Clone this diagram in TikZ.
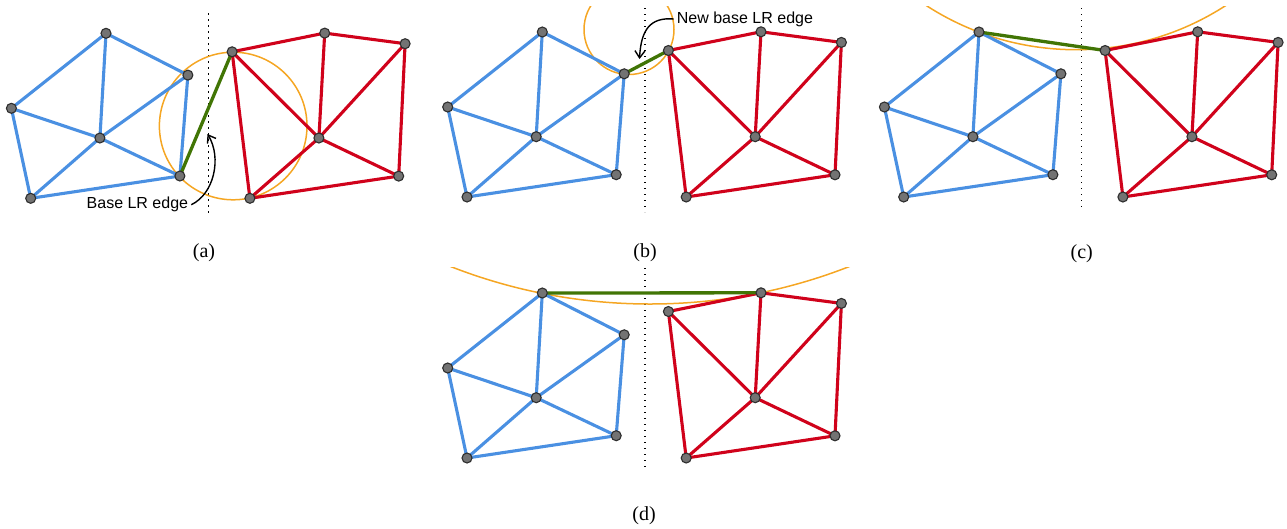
\documentclass[tikz,border=0pt]{standalone}
\usepackage{fontspec}
\setmainfont{Liberation Serif}
\newfontfamily\calloutfont{Liberation Sans}
\usetikzlibrary{arrows.meta}
\definecolor{meshblue}{HTML}{4A90E2}
\definecolor{meshred}{HTML}{D0021B}
\definecolor{basegreen}{HTML}{417505}
\definecolor{circorange}{HTML}{F5A623}
\definecolor{vtxgray}{HTML}{737373}
\definecolor{vtxrim}{HTML}{2E2E2E}
\tikzset{
  vtx/.style={circle,fill=vtxgray,draw=vtxrim,line width=1.1pt,inner sep=0pt,minimum size=10pt},
  lside/.style={meshblue,line width=3.1pt,line join=round},
  rside/.style={meshred,line width=3.1pt,line join=round},
  baseedge/.style={basegreen,line width=3.3pt},
  testcircle/.style={circorange,line width=1.5pt},
  divider/.style={line width=1.2pt,dash pattern=on 1.4pt off 4.6pt},
  callout/.style={font=\calloutfont\fontsize{16}{19}\selectfont,inner sep=3pt},
  caption/.style={font=\fontsize{20}{23}\selectfont,inner sep=0pt},
  pointer/.style={line width=1.4pt,->},
}
% #1 prefix, #2 and #3 end points of the base edge
\newcommand{\meshpair}[3]{%
  \coordinate (#1b1) at (-102.7,32);
  \coordinate (#1b2) at (-197.3,107);
  \coordinate (#1b3) at (-108.8,136.7);
  \coordinate (#1b4) at (-178,197);
  \coordinate (#1b5) at (-20.8,73.8);
  \coordinate (#1b6) at (-28.8,174.7);
  \coordinate (#1r1) at (23.4,50.5);
  \coordinate (#1r2) at (116,31.8);
  \coordinate (#1r3) at (196.4,42.4);
  \coordinate (#1r4) at (110.2,136.7);
  \coordinate (#1r5) at (190,174.8);
  \coordinate (#1r6) at (41.2,197);
  \draw[lside] (#1b2)--(#1b1)--(#1b5)--(#1b6)--(#1b4)--cycle;
  \draw[lside] (#1b1)--(#1b3) (#1b2)--(#1b3) (#1b4)--(#1b3) (#1b5)--(#1b3) (#1b6)--(#1b3);
  \draw[rside] (#1r1)--(#1r2)--(#1r3)--(#1r5)--(#1r6)--cycle;
  \draw[rside] (#1r1)--(#1r4) (#1r2)--(#1r4) (#1r3)--(#1r4) (#1r5)--(#1r4) (#1r6)--(#1r4);
  \draw[baseedge] (#1#2)--(#1#3);
  \foreach \v in {b1,b2,b3,b4,b5,b6,r1,r2,r3,r4,r5,r6}
    \node[vtx] (#1\v-v) at (#1\v) {};
}

\begin{document}
\begin{tikzpicture}[x=1pt,y=-1pt,>={Straight Barb[length=7pt,width=10pt]}]
\useasboundingbox (0,0) rectangle (1287,528);

\begin{scope}[shift={(208.7,1.3)}]
\draw[divider] (0,12)--(0,212);
\begin{scope}
\clip (-250,6) rectangle (250,230);
\draw[testcircle] (24.5,124.7) circle[radius=73.8];
\end{scope}
\meshpair{a}{b6}{r1}
\node[callout,anchor=east] (lblA) at (-17.4,203.4) {Base LR edge};
\coordinate (tipA) at (-1.2,132.7);
\draw[pointer] (lblA.east) .. controls (5.3,192.7) and (13.3,156.7) .. (tipA);
\end{scope}

\begin{scope}[shift={(645,0)}]
\draw[divider] (0,8)--(0,212);
\begin{scope}
\clip (-250,6) rectangle (250,230);
\draw[testcircle] (-16,29.5) circle[radius=45];
\end{scope}
\meshpair{b}{b5}{r1}
\node[callout,anchor=west] (lblB) at (28.7,19) {New base LR edge};
\coordinate (tipB) at (-5.5,59);
\draw[pointer] (lblB.west) .. controls (5,17) and (-4,30) .. (tipB);
\end{scope}

\begin{scope}[shift={(1081.7,0)}]
\draw[divider] (0,8)--(0,211);
\begin{scope}
\clip (-250,6) rectangle (250,230);
\draw[testcircle] (-5.7,-226) circle[radius=275.7];
\end{scope}
\meshpair{c}{b1}{r1}
\end{scope}

\begin{scope}[shift={(645,261)}]
\draw[divider] (0,7)--(0,210);
\begin{scope}
\clip (-250,6) rectangle (250,230);
\draw[testcircle] (5,-503.8) circle[radius=546.8];
\end{scope}
\meshpair{d}{b1}{r2}
\end{scope}

\node[caption] (capA) at (204,253) {(a)};
\node[caption] (capB) at (645,253) {(b)};
\node[caption] (capC) at (1081.7,254) {(c)};
\node[caption] (capD) at (644,516) {(d)};
\end{tikzpicture}
\end{document}
